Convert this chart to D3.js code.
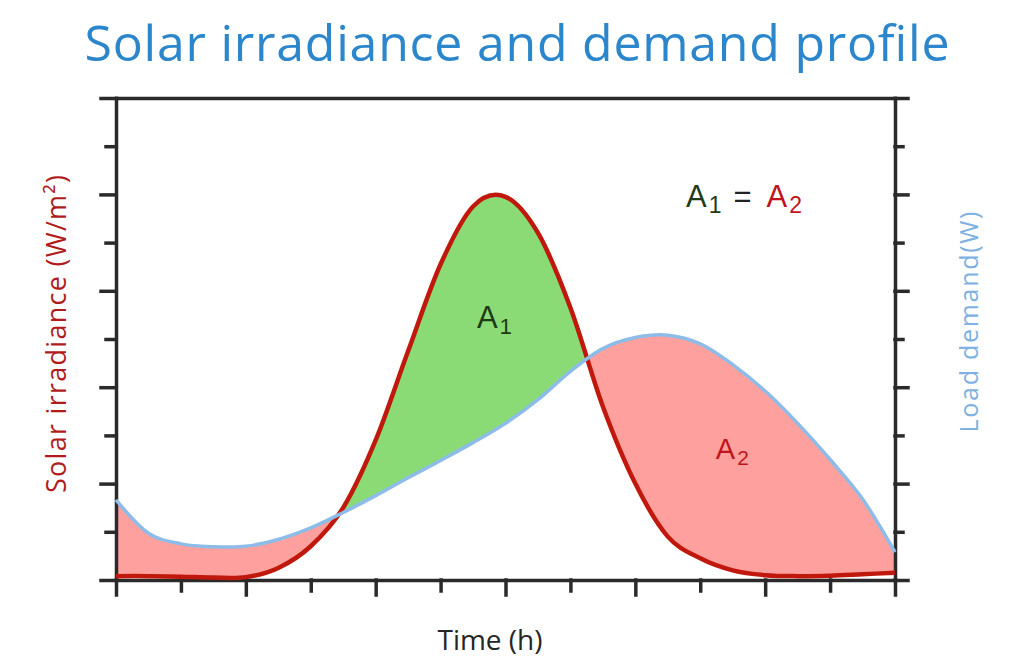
<!DOCTYPE html>
<html>
<head>
<meta charset="utf-8">
<script src="https://cdnjs.cloudflare.com/ajax/libs/d3/7.8.5/d3.min.js"></script>
<style>
body { margin: 0; background: #fff; }
</style>
</head>
<body>
<svg id="chart" width="1024" height="664"></svg>
<script>
// hours of the day, one value per hour
var hours = d3.range(0, 25);
// solar irradiance curve (red)
var solar = [0.08, 0.08, 0.07, 0.05, 0.06, 0.25, 0.7, 1.5, 2.9, 4.75, 6.55, 7.75,
             7.95, 7.2, 5.65, 3.6, 2.0, 0.9, 0.45, 0.2, 0.1, 0.08, 0.09, 0.12, 0.15];
// load demand curve (blue)
var demand = [1.66, 0.97, 0.75, 0.69, 0.70, 0.84, 1.08, 1.40, 1.75, 2.12, 2.48, 2.85,
              3.25, 3.74, 4.33, 4.80, 5.03, 5.08, 4.90, 4.47, 3.92, 3.25, 2.50, 1.68, 0.58];
// tick positions
var xTicks = d3.range(0, 25, 2);
var yTicks = d3.range(0, 11, 1);

var svg = d3.select("#chart");

// plot box (window.top is taken, so prefix the names)
var boxLeft = 116, boxRight = 895, boxTop = 98, boxBottom = 580;

var x = d3.scaleLinear().domain([0, 24]).range([boxLeft, boxRight]);
var y = d3.scaleLinear().domain([0, 10]).range([boxBottom, boxTop]);

// put both series together for the area generators
var records = hours.map(function(h, i){
    return {t: h, s: solar[i], d: demand[i]};
});

// uniform catmull-rom: smooth through every hourly point
var curve = d3.curveCatmullRom.alpha(0);

// clip regions: everything above each curve
var defs = svg.append("defs");
defs.append("clipPath").attr("id", "aboveDemand")
    .append("path")
    .attr("d", d3.area().curve(curve)
        .x(function(r){ return x(r.t); })
        .y0(y(10))
        .y1(function(r){ return y(r.d); })(records));
defs.append("clipPath").attr("id", "aboveSolar")
    .append("path")
    .attr("d", d3.area().curve(curve)
        .x(function(r){ return x(r.t); })
        .y0(y(10))
        .y1(function(r){ return y(r.s); })(records));

// green: under the solar curve but above the demand curve
svg.append("path")
    .attr("d", d3.area().curve(curve)
        .x(function(r){ return x(r.t); })
        .y0(y(0))
        .y1(function(r){ return y(r.s); })(records))
    .attr("clip-path", "url(#aboveDemand)")
    .attr("fill", "#8ADB76");

// pink: under the demand curve but above the solar curve
svg.append("path")
    .attr("d", d3.area().curve(curve)
        .x(function(r){ return x(r.t); })
        .y0(y(0))
        .y1(function(r){ return y(r.d); })(records))
    .attr("clip-path", "url(#aboveSolar)")
    .attr("fill", "#FEA19E");

// axes, long ticks on even steps and short ones between
var axisColor = "#2a2a2a";

var gBottom = svg.append("g")
    .attr("transform", "translate(0," + boxBottom + ")")
    .call(d3.axisBottom(x).tickValues(xTicks).tickFormat("").tickSizeOuter(0));
gBottom.selectAll(".tick line").attr("y2", function(d){ return d % 4 === 0 ? 15 : 11; });

var gLeft = svg.append("g")
    .attr("transform", "translate(" + boxLeft + ",0)")
    .call(d3.axisLeft(y).tickValues(yTicks).tickFormat("").tickSizeOuter(0));
gLeft.selectAll(".tick line").attr("x2", function(d){ return d % 2 === 0 ? -15 : -10; });

var gRight = svg.append("g")
    .attr("transform", "translate(" + boxRight + ",0)")
    .call(d3.axisRight(y).tickValues(yTicks).tickFormat("").tickSizeOuter(0));
gRight.selectAll(".tick line").attr("x2", function(d){ return d % 2 === 0 ? 13 : 8; });

var gTop = svg.append("g")
    .attr("transform", "translate(0," + boxTop + ")")
    .call(d3.axisTop(x).tickValues([]).tickSizeOuter(0));

svg.selectAll(".domain, .tick line")
    .attr("stroke", axisColor)
    .attr("stroke-width", 3.5)
    .attr("stroke-linecap", "square");

// the two curves
svg.append("path")
    .attr("d", d3.line().curve(curve)
        .x(function(r){ return x(r.t); })
        .y(function(r){ return y(r.s); })(records))
    .attr("fill", "none")
    .attr("stroke", "#C0180C")
    .attr("stroke-width", 4.5);

svg.append("path")
    .attr("d", d3.line().curve(curve)
        .x(function(r){ return x(r.t); })
        .y(function(r){ return y(r.d); })(records))
    .attr("fill", "none")
    .attr("stroke", "#8DBCE8")
    .attr("stroke-width", 3.5);

// title
svg.append("text")
    .attr("x", 517).attr("y", 61)
    .attr("text-anchor", "middle")
    .attr("font-family", "Open Sans, sans-serif")
    .attr("font-size", 50)
    .attr("textLength", 865)
    .attr("lengthAdjust", "spacing")
    .attr("fill", "#2C86CC")
    .text("Solar irradiance and demand profile");

// axis titles
svg.append("text")
    .attr("transform", "translate(66,334) rotate(-90)")
    .attr("text-anchor", "middle")
    .attr("font-family", "Open Sans, sans-serif")
    .attr("font-size", 27)
    .attr("textLength", 318)
    .attr("lengthAdjust", "spacing")
    .attr("fill", "#B01C1C")
    .text("Solar irradiance (W/m²)");

svg.append("text")
    .attr("transform", "translate(978,322) rotate(-90)")
    .attr("text-anchor", "middle")
    .attr("font-family", "Open Sans, sans-serif")
    .attr("font-size", 25)
    .attr("textLength", 221)
    .attr("lengthAdjust", "spacing")
    .attr("fill", "#7EB1E1")
    .text("Load demand(W)");

svg.append("text")
    .attr("x", 490).attr("y", 650)
    .attr("text-anchor", "middle")
    .attr("font-family", "Open Sans, sans-serif")
    .attr("font-size", 28)
    .attr("textLength", 105)
    .attr("lengthAdjust", "spacing")
    .attr("fill", "#262626")
    .text("Time (h)");

// area labels, placed in data coordinates
var green = "#1F3A16", red = "#C0141C";

function areaLabel(t, v, size, color, sub){
    var label = svg.append("text")
        .attr("x", x(t)).attr("y", y(v))
        .attr("font-family", "Liberation Sans, Arial, sans-serif")
        .attr("font-size", size)
        .attr("fill", color);
    label.append("tspan").text("A");
    label.append("tspan").attr("dx", 2).attr("dy", 6)
        .attr("font-size", size * 0.72).text(sub);
    return label;
}

areaLabel(11.12, 5.23, 31, green, "1");
areaLabel(18.48, 2.51, 29, red, "2");

// the equation at the top right
var eq = svg.append("text")
    .attr("x", x(17.56)).attr("y", y(7.74))
    .attr("font-family", "Liberation Sans, Arial, sans-serif")
    .attr("font-size", 31);
eq.append("tspan").attr("fill", green).text("A");
eq.append("tspan").attr("fill", green).attr("dx", 2).attr("dy", 6)
    .attr("font-size", 23).text("1");
eq.append("tspan").attr("fill", "#222").attr("dx", 12).attr("dy", -6).text("=");
eq.append("tspan").attr("fill", red).attr("dx", 15).attr("dy", 0).text("A");
eq.append("tspan").attr("fill", red).attr("dx", 2).attr("dy", 6)
    .attr("font-size", 23).text("2");
</script>
</body>
</html>
